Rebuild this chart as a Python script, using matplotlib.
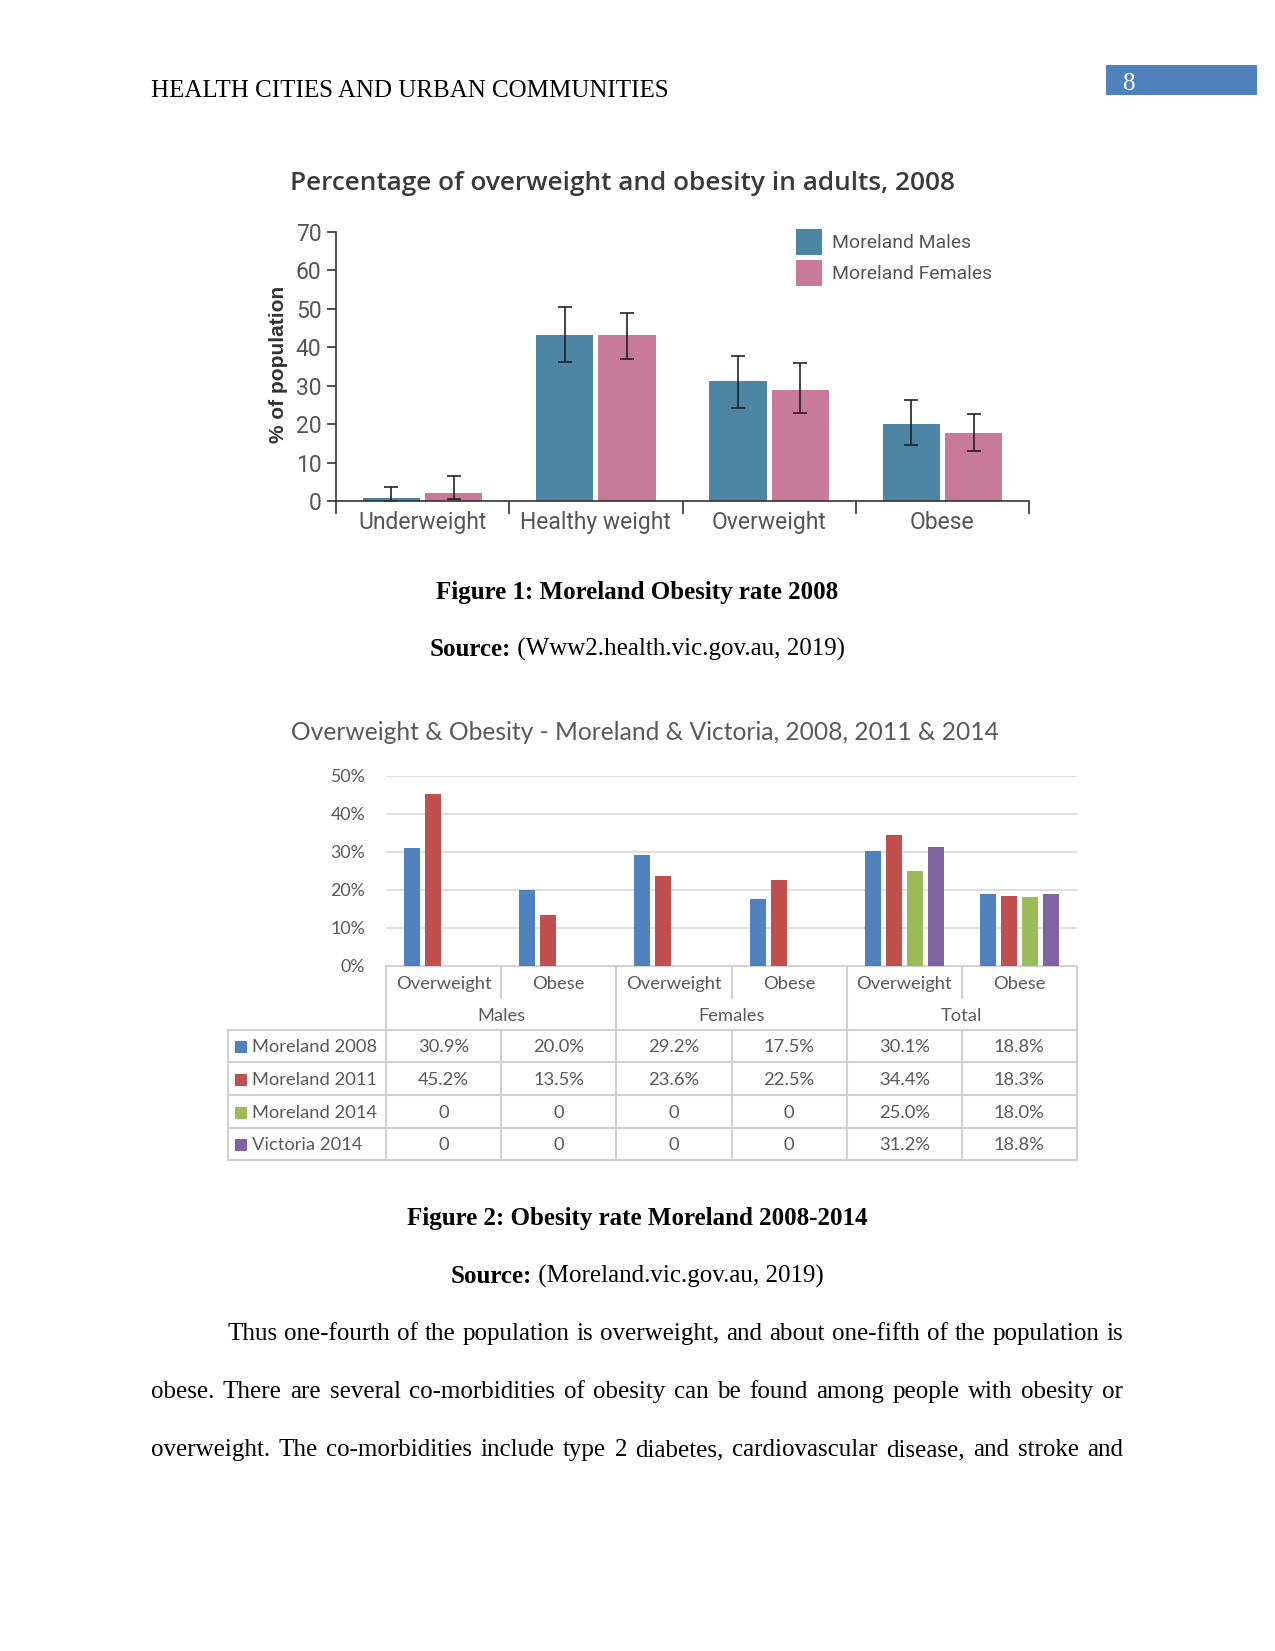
import matplotlib
matplotlib.use('Agg')
import matplotlib.pyplot as plt
from matplotlib.patches import Rectangle

# ---- figure 1 data ----
weight_cats = ['Underweight', 'Healthy weight', 'Overweight', 'Obese']
males_2008 = [0.9, 43.3, 31.1, 20.0]
females_2008 = [2.2, 43.3, 29.0, 17.6]
males_err_lo = [0.9, 7.2, 6.8, 5.4]
males_err_hi = [2.7, 7.2, 6.7, 6.4]
females_err_lo = [1.8, 6.4, 6.0, 4.7]
females_err_hi = [4.3, 5.5, 6.8, 5.1]
fig1_series = ['Moreland Males', 'Moreland Females']

# ---- figure 2 data ----
groups = ['Males', 'Females', 'Total']
measures = ['Overweight', 'Obese', 'Overweight', 'Obese', 'Overweight', 'Obese']
series_names = ['Moreland 2008', 'Moreland 2011', 'Moreland 2014', 'Victoria 2014']
moreland_2008 = [30.9, 20.0, 29.2, 17.5, 30.1, 18.8]
moreland_2011 = [45.2, 13.5, 23.6, 22.5, 34.4, 18.3]
moreland_2014 = [0, 0, 0, 0, 25.0, 18.0]
victoria_2014 = [0, 0, 0, 0, 31.2, 18.8]
y2_ticks = [0, 10, 20, 30, 40, 50]

W, H = 1275, 1651
fig = plt.figure(figsize=(W / 150, H / 150), dpi=150)

# page axes in pixel coordinates
page = fig.add_axes([0, 0, 1, 1], zorder=0)
page.set_xlim(0, W)
page.set_ylim(H, 0)
page.axis('off')

serif = ['Liberation Serif', 'DejaVu Serif']
narrow = ['Liberation Sans Narrow', 'Roboto', 'DejaVu Sans']
cal = ['Lato', 'DejaVu Sans']


def px_rect(x0, y0, x1, y1):
    # pixel box (top-left origin) -> figure fraction
    return [x0 / W, (H - y1) / H, (x1 - x0) / W, (y1 - y0) / H]


# header
page.text(151, 97, 'HEALTH CITIES AND URBAN COMMUNITIES', family=serif, fontsize=12, va='baseline')
page.add_patch(Rectangle((1107, 66), 149, 28, color='#4f81bd'))
page.text(1123, 90, '8', family=serif, fontsize=12, color='white', va='baseline')

# ---------------- figure 1 ----------------
c1 = '#4d86a4'
c2 = '#c87a99'
ax1 = fig.add_axes(px_rect(336, 232, 1029, 501), zorder=2)
ax1.set_facecolor('none')
xs = [i + 0.5 for i in range(len(weight_cats))]
ax1.bar([x - 0.18 for x in xs], males_2008, width=0.33, color=c1,
        yerr=[males_err_lo, males_err_hi], error_kw=dict(ecolor='#222222', elinewidth=0.8, capsize=3.5, capthick=0.8))
ax1.bar([x + 0.18 for x in xs], females_2008, width=0.33, color=c2,
        yerr=[females_err_lo, females_err_hi], error_kw=dict(ecolor='#222222', elinewidth=0.8, capsize=3.5, capthick=0.8))
ax1.set_xlim(0, 4)
ax1.set_ylim(0, 70)
ax1.set_yticks(range(0, 71, 10))
ax1.set_xticks(range(5))
ax1.set_xticklabels([])
ax1.set_xticks(xs, minor=True)
ax1.set_xticklabels(weight_cats, minor=True, family=narrow, fontsize=11, color='#555555')
ax1.tick_params(axis='x', which='major', length=6, width=0.8, color='#333333')
ax1.tick_params(axis='x', which='minor', length=0, pad=5)
ax1.tick_params(axis='y', length=4.5, width=0.8, color='#333333', pad=2.5, labelsize=11, labelcolor='#555555')
for lab in ax1.get_yticklabels():
    lab.set_family(narrow)
for s in ['top', 'right']:
    ax1.spines[s].set_visible(False)
for s in ['left', 'bottom']:
    ax1.spines[s].set_color('#333333')
    ax1.spines[s].set_linewidth(0.8)

page.text(623, 183, 'Percentage of overweight and obesity in adults, 2008', family=['Open Sans', 'DejaVu Sans'],
          fontweight='semibold', fontsize=12.6, color='#3a3a3a', ha='center', va='center')
page.text(278, 364, '% of population', family=['Liberation Sans', 'DejaVu Sans'], fontweight='bold',
          fontsize=10, color='#333333', rotation=90, ha='center', va='center')
for k, (name, col) in enumerate(zip(fig1_series, [c1, c2])):
    y0 = 230 + k * 31
    page.add_patch(Rectangle((797, y0), 24, 24, color=col))
    page.text(832, y0 + 13, name, family=narrow, fontsize=9.3, color='#555555', va='center')

# ---------------- figure 2 ----------------
cols2 = ['#4f81bd', '#c0504d', '#9bbb59', '#8064a2']
series2 = [moreland_2008, moreland_2011, moreland_2014, victoria_2014]
x0t, x1t = 386, 1077
y_top, y_zero = 775.7, 966
ax2 = fig.add_axes(px_rect(x0t, y_top, x1t, y_zero), zorder=2)
ax2.set_facecolor('none')
for j, (vals, col) in enumerate(zip(series2, cols2)):
    ax2.bar([i + 0.5 + (j - 1.5) * 0.182 for i in range(len(measures))], vals, width=0.139, color=col)
ax2.set_xlim(0, len(measures))
ax2.set_ylim(0, 50)
ax2.set_yticks(y2_ticks)
ax2.set_yticklabels([f'{t}%' for t in y2_ticks], family=cal, fontsize=8.5, color='#595959')
ax2.tick_params(axis='y', length=0, pad=10)
ax2.set_xticks([])
ax2.grid(axis='y', color='#d9d9d9', linewidth=0.8)
ax2.set_axisbelow(True)
for s in ax2.spines.values():
    s.set_visible(False)

page.text(645, 732, 'Overweight & Obesity - Moreland & Victoria, 2008, 2011 & 2014', family=cal,
          fontsize=11.8, color='#595959', ha='center', va='center')

# table
lc = '#d0d0d0'
cw = (x1t - x0t) / len(measures)
rows = [966, 998, 1030, 1062, 1095, 1128, 1160]
page.plot([x0t, x1t], [rows[0], rows[0]], color=lc, lw=1)
for r in rows[2:]:
    page.plot([228, x1t], [r, r], color=lc, lw=1)
page.plot([x0t, x0t], [rows[0], rows[-1]], color=lc, lw=1)
page.plot([x1t, x1t], [rows[0], rows[-1]], color=lc, lw=1)
page.plot([228, 228], [rows[2], rows[-1]], color=lc, lw=1)
for g in range(1, 3):
    xg = x0t + 2 * g * cw
    page.plot([xg, xg], [rows[0], rows[-1]], color=lc, lw=1)
for g in range(3):
    xm = x0t + (2 * g + 1) * cw
    page.plot([xm, xm], [rows[0], rows[1]], color=lc, lw=1)
    page.plot([xm, xm], [rows[2], rows[-1]], color=lc, lw=1)

tk = dict(family=cal, fontsize=8.8, color='#595959', va='center')
for i, m in enumerate(measures):
    page.text(x0t + (i + 0.5) * cw, (rows[0] + rows[1]) / 2 + 2, m, ha='center', **tk)
for g, name in enumerate(groups):
    page.text(x0t + (2 * g + 1) * cw, (rows[1] + rows[2]) / 2 + 2, name, ha='center', **tk)
for j, (name, vals, col) in enumerate(zip(series_names, series2, cols2)):
    yc = (rows[2 + j] + rows[3 + j]) / 2 + 1.5
    page.add_patch(Rectangle((236, yc - 5.5), 10, 10, color=col))
    page.text(252, yc, name, ha='left', **tk)
    for i, v in enumerate(vals):
        page.text(x0t + (i + 0.5) * cw, yc, '0' if v == 0 else f'{v:.1f}%', ha='center', **tk)

# captions
renderer = fig.canvas.get_renderer()


def centered_pair(y, bold_part, rest):
    t1 = page.text(0, y, bold_part, family=serif, fontsize=12, fontweight='bold', va='baseline')
    t2 = page.text(0, y, rest, family=serif, fontsize=12, va='baseline')
    w1 = t1.get_window_extent(renderer).width
    w2 = t2.get_window_extent(renderer).width
    x = W / 2 - (w1 + w2) / 2
    t1.set_x(x)
    t2.set_x(x + w1)


page.text(W / 2, 599, 'Figure 1: Moreland Obesity rate 2008', family=serif, fontsize=12,
          fontweight='bold', ha='center', va='baseline')
centered_pair(656, 'Source:', ' (Www2.health.vic.gov.au, 2019)')
page.text(W / 2, 1225, 'Figure 2: Obesity rate Moreland 2008-2014', family=serif, fontsize=12,
          fontweight='bold', ha='center', va='baseline')
centered_pair(1283, 'Source:', ' (Moreland.vic.gov.au, 2019)')

# justified paragraph
lines = [
    (227, 1340, 'Thus one-fourth of the population is overweight, and about one-fifth of the population is'),
    (151, 1398, 'obese. There are several co-morbidities of obesity can be found among people with obesity or'),
    (151, 1456, 'overweight. The co-morbidities include type 2 diabetes, cardiovascular disease, and stroke and'),
]
for xs0, yb, line in lines:
    words = line.split()
    texts = [page.text(0, yb, w, family=serif, fontsize=12, va='baseline') for w in words]
    widths = [t.get_window_extent(renderer).width for t in texts]
    gap = (1123 - xs0 - sum(widths)) / (len(words) - 1)
    x = xs0
    for t, wd in zip(texts, widths):
        t.set_x(x)
        x += wd + gap

fig.savefig('out.png', dpi=150)
